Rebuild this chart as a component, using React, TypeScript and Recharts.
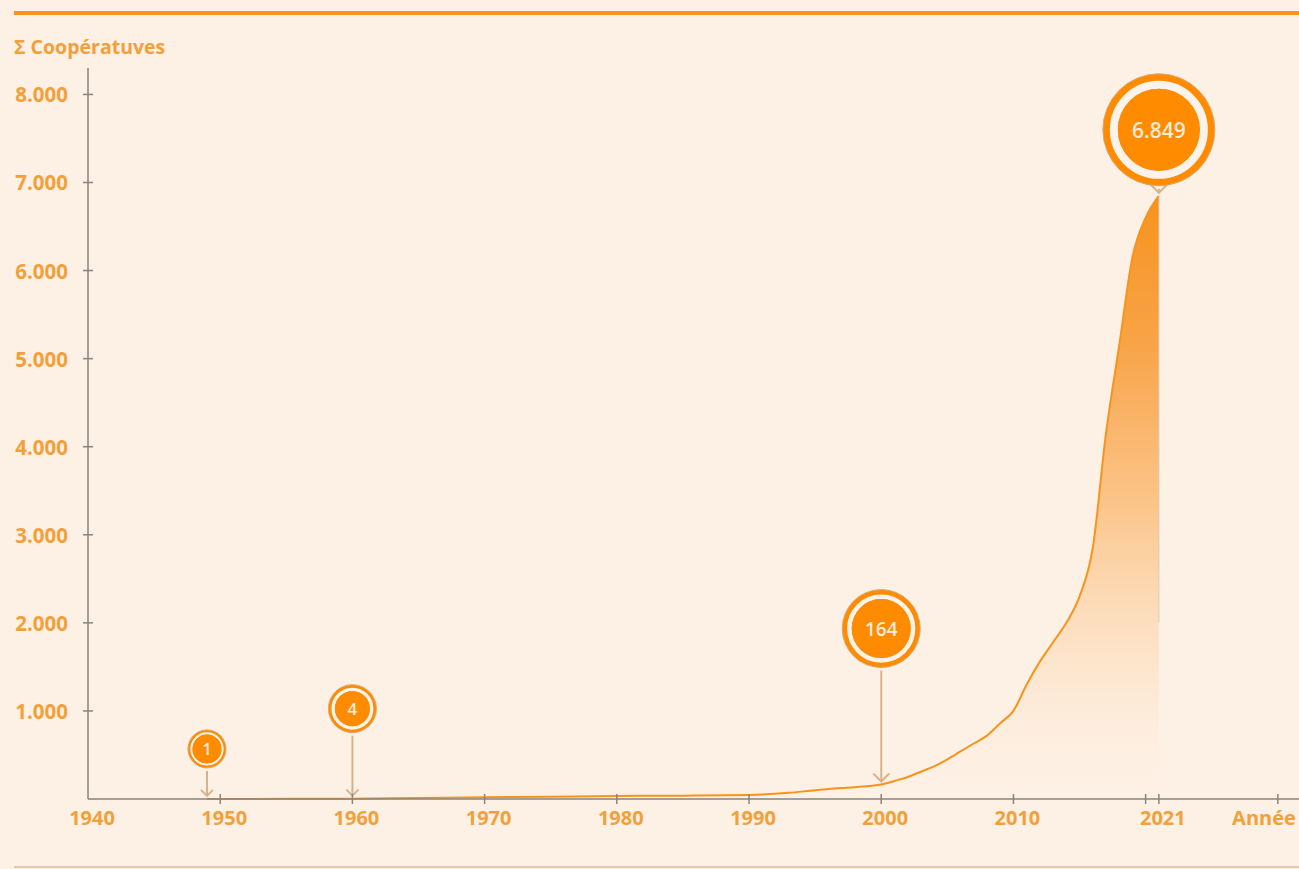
import React from 'react';
import { ComposedChart, Area, XAxis, YAxis, ReferenceDot, ReferenceLine } from 'recharts';

// ---- data ----
const years = [1949, 1950, 1955, 1960, 1965, 1970, 1975, 1980, 1985, 1990, 1993, 1995, 1997, 2000, 2001, 2002, 2003, 2004, 2005, 2006, 2007, 2008, 2009, 2010, 2011, 2012, 2013, 2014, 2015, 2016, 2017, 2018, 2019, 2020, 2021];
const cumulative = [1, 1, 2, 4, 12, 20, 25, 35, 38, 45, 70, 100, 125, 164, 205, 250, 310, 370, 450, 540, 630, 720, 860, 1000, 1300, 1560, 1780, 2000, 2300, 2850, 4150, 5150, 6150, 6600, 6849];
const xTicks = [1940, 1950, 1960, 1970, 1980, 1990, 2000, 2010, 2020, 2021, 2030];
const yTicks = [1000, 2000, 3000, 4000, 5000, 6000, 7000, 8000];
const calloutYears = [1949, 1960, 2000, 2021];
const calloutValues = [1, 4, 164, 6849];

// ---- styles ----
const calloutStyle = [
  { r: 19, inner: 14.5, offset: 50, font: 16 },
  { r: 24, inner: 17.5, offset: 90, font: 17 },
  { r: 39, inner: 29.5, offset: 156, font: 19 },
  { r: 56, inner: 41, offset: 66, font: 21 },
];

const BG = '#FDF0E4';
const ORANGE = '#F7941D';
const CIRCLE = '#FF8C00';
const LABEL = '#F3A03A';
const AXIS = '#8A847E';
const ARROW = '#D6B38E';
const FONT = '"Open Sans", "DejaVu Sans", sans-serif';

const data = years.map((y, i) => ({ year: y, v: cumulative[i] }));

const fmt = (v: number) => String(v).replace(/\B(?=(\d{3})+(?!\d))/g, '.');

const XTick = (props: any) => {
  const { x, y, payload } = props;
  const v = payload.value;
  const label = v === 2030 ? 'Année' : v === 2020 ? '' : String(v);
  const isLast = v === 2030;
  return (
    <g>
      {v !== 1940 && <line x1={x} x2={x} y1={y - 5} y2={y + 5} stroke={AXIS} strokeWidth={1.5} />}
      {label && (
        <text x={isLast ? x + 18 : x + 4} y={y + 18} textAnchor={isLast ? 'end' : 'middle'} dominantBaseline="central" fill={LABEL} fontSize={20} fontWeight={700} fontFamily={FONT}>
          {label}
        </text>
      )}
    </g>
  );
};

const YTick = (props: any) => {
  const { x, y, payload } = props;
  return (
    <g>
      <line x1={x - 5} x2={x + 5} y1={y} y2={y} stroke={AXIS} strokeWidth={1.5} />
      <text x={x - 20} y={y} textAnchor="end" dominantBaseline="central" fill={LABEL} fontSize={20.5} fontWeight={700} fontFamily={FONT}>
        {fmt(payload.value)}
      </text>
    </g>
  );
};

const makeCallout = (value: number, s: { r: number; inner: number; offset: number; font: number }) => (p: any) => {
  const { cx, cy } = p;
  if (cx == null || cy == null) return null;
  const ccy = cy - s.offset;
  const tip = cy - 3;
  const start = ccy + s.r + 3;
  const ch = s.r > 30 ? 8 : 6;
  return (
    <g>
      {start < tip && <line x1={cx} x2={cx} y1={start} y2={tip} stroke={ARROW} strokeWidth={2} />}
      <polyline points={`${cx - ch},${tip - ch} ${cx},${tip} ${cx + ch},${tip - ch}`} fill="none" stroke={ARROW} strokeWidth={2} />
      <circle cx={cx} cy={ccy} r={s.r} fill={CIRCLE} stroke="#D9A877" strokeWidth={1} />
      <circle cx={cx} cy={ccy} r={(s.r * 0.875 + s.inner) / 2} fill="none" stroke="#FDF3EA" strokeWidth={s.r * 0.875 - s.inner} />
      <circle cx={cx} cy={ccy} r={s.inner} fill={CIRCLE} />
      <text x={cx} y={ccy} textAnchor="middle" dominantBaseline="central" fill="#FDEBD8" fontSize={s.font} fontWeight={600} fontFamily={FONT}>
        {fmt(value)}
      </text>
    </g>
  );
};

export default function App() {
  return (
    <div style={{ position: 'absolute', left: 0, top: 0, width: 1299, height: 869, background: BG, overflow: 'hidden' }}>
      <div style={{ position: 'absolute', left: 14, top: 11, width: 1285, height: 4, background: ORANGE }} />
      <div style={{ position: 'absolute', left: 14, top: 866, width: 1285, height: 2, background: '#E6C7A4' }} />
      <div style={{ position: 'absolute', left: 14, top: 34, fontFamily: FONT, fontWeight: 700, fontSize: 19.5, color: LABEL, lineHeight: '26px', whiteSpace: 'nowrap' }}>
        Σ Coopératuves
      </div>
      <div style={{ position: 'absolute', left: 0, top: 0 }}>
        <ComposedChart width={1299} height={869} data={data} margin={{ top: 68, right: 0, bottom: 0, left: 0 }}>
          <defs>
            <linearGradient id="areaGrad" x1="0" y1="0" x2="0" y2="1">
              <stop offset="0" stopColor="#F7931E" stopOpacity={1} />
              <stop offset="0.25" stopColor="#F8A040" stopOpacity={0.95} />
              <stop offset="0.5" stopColor="#FAB86F" stopOpacity={0.8} />
              <stop offset="0.75" stopColor="#FCD7B0" stopOpacity={0.55} />
              <stop offset="1" stopColor={BG} stopOpacity={0} />
            </linearGradient>
          </defs>
          <XAxis
            dataKey="year"
            type="number"
            domain={[1940, 2031.6]}
            ticks={xTicks}
            interval={0}
            allowDataOverflow
            height={70}
            tickSize={0}
            tickMargin={0}
            tickLine={false}
            axisLine={{ stroke: AXIS, strokeWidth: 1.5 }}
            tick={<XTick />}
          />
          <YAxis
            type="number"
            domain={[0, 8300]}
            ticks={yTicks}
            interval={0}
            width={88}
            tickSize={0}
            tickMargin={0}
            tickLine={false}
            axisLine={{ stroke: AXIS, strokeWidth: 1.5 }}
            tick={<YTick />}
          />
          <Area
            type="monotone"
            dataKey="v"
            stroke={ORANGE}
            strokeWidth={2}
            fill="url(#areaGrad)"
            fillOpacity={1}
            dot={false}
            activeDot={false}
            isAnimationActive={false}
          />
          <ReferenceLine
            segment={[{ x: 2021, y: 2000 }, { x: 2021, y: 6849 }]}
            stroke="#D2C6BB"
            strokeOpacity={0.5}
            strokeWidth={1.5}
          />
          {calloutYears.map((yr, i) => (
            <ReferenceDot
              key={yr}
              x={yr}
              y={calloutValues[i]}
              r={1}
              ifOverflow="visible"
              shape={makeCallout(calloutValues[i], calloutStyle[i])}
            />
          ))}
        </ComposedChart>
      </div>
    </div>
  );
}
